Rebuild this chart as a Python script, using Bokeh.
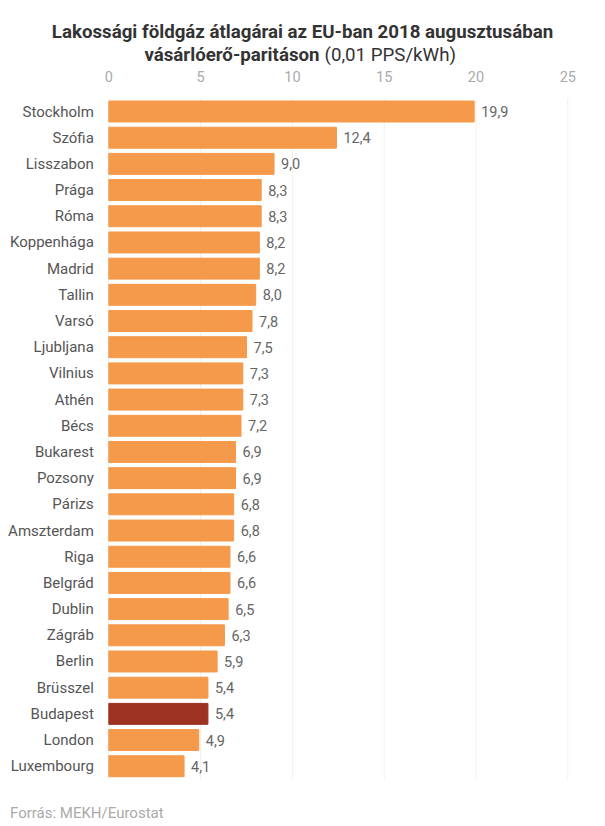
from bokeh.plotting import figure
from bokeh.models import ColumnDataSource, Range1d
from bokeh.core.properties import value
from bokeh.embed import file_html
from bokeh.resources import INLINE

cities = ["Stockholm", "Szófia", "Lisszabon", "Prága", "Róma", "Koppenhága", "Madrid",
          "Tallin", "Varsó", "Ljubljana", "Vilnius", "Athén", "Bécs", "Bukarest", "Pozsony",
          "Párizs", "Amszterdam", "Riga", "Belgrád", "Dublin", "Zágráb", "Berlin", "Brüsszel",
          "Budapest", "London", "Luxembourg"]
prices = [19.9, 12.4, 9.0, 8.3, 8.3, 8.2, 8.2, 8.0, 7.8, 7.5, 7.3, 7.3, 7.2, 6.9, 6.9,
          6.8, 6.8, 6.6, 6.6, 6.5, 6.3, 5.9, 5.4, 5.4, 4.9, 4.1]
x_ticks = [0, 5, 10, 15, 20, 25]
highlight = "Budapest"

title1 = "Lakossági földgáz átlagárai az EU-ban 2018 augusztusában"
title2a = "vásárlóerő-paritáson"
title2b = "(0,01 PPS/kWh)"
source_txt = "Forrás: MEKH/Eurostat"

ORANGE = "#F5994A"
DARKRED = "#9E3222"
FONT = value("Roboto")

W, H = 589, 822
OX, OY = 1.0, 0.0      # where the canvas lands on the page
PX_X = 18.36           # pixels per value unit
PX_Y = 26.19           # pixels per row
x0 = -(109.3 - OX) / PX_X
y_top = -(111.0 - OY) / PX_Y

n = len(cities)
rows = list(range(n))
colors = [DARKRED if c == highlight else ORANGE for c in cities]
labels = [f"{v:.1f}".replace(".", ",") for v in prices]
src = ColumnDataSource(dict(y=rows, x=prices, color=colors, label=labels, city=cities))

p = figure(width=W, height=H, output_backend="svg", toolbar_location=None,
           x_range=Range1d(x0, x0 + W / PX_X), y_range=Range1d(y_top + H / PX_Y, y_top),
           x_axis_location=None, y_axis_location=None,
           min_border=0, min_border_left=0, min_border_right=0,
           min_border_top=0, min_border_bottom=0)
p.outline_line_color = None
p.xgrid.visible = False
p.ygrid.visible = False
p.background_fill_color = "white"
p.border_fill_color = "white"


def yy(px):
    return y_top + (px - OY) / PX_Y


def xx(px):
    return x0 + (px - OX) / PX_X


# vertical grid lines over the bar area
p.segment(x0=x_ticks, x1=x_ticks, y0=[-0.5] * len(x_ticks), y1=[n - 0.5] * len(x_ticks),
          line_color="#f7f0e2", line_width=1)

# bars
p.hbar(y="y", left=0, right="x", height=0.8, color="color", source=src)

# value labels
p.text(x="x", y="y", text="label", source=src, x_offset=7, text_baseline="middle",
       text_align="left", text_color="#666666", text_font=FONT, text_font_size="14.5px")

# category labels
p.text(x=0, y="y", text="city", source=src, x_offset=-15, text_baseline="middle",
       text_align="right", text_color="#555555", text_font=FONT, text_font_size="15px")

# x tick labels (top)
p.text(x=x_ticks, y=[yy(76)] * len(x_ticks), text=[str(t) for t in x_ticks],
       text_baseline="middle", text_align="center", text_color="#aaaaaa",
       text_font=FONT, text_font_size="14.5px")

# title
p.text(x=[xx(303)], y=[yy(31.5)], text=[title1], text_align="center", text_baseline="middle",
       text_font=FONT, text_font_style="bold", text_font_size="18.7px", text_color="#333333")
p.text(x=[xx(320)], y=[yy(54.5)], text=[title2a], text_align="right", text_baseline="middle",
       text_font=FONT, text_font_style="bold", text_font_size="18.7px", text_color="#333333")
p.text(x=[xx(325)], y=[yy(54.5)], text=[title2b], text_align="left", text_baseline="middle",
       text_font=FONT, text_font_style="normal", text_font_size="18.7px", text_color="#333333")

# source
p.text(x=[xx(10.5)], y=[yy(812)], text=[source_txt], text_align="left", text_baseline="middle",
       text_font=FONT, text_font_size="15px", text_color="#aaaaaa")

open("out.html", "w").write(file_html(p, INLINE))
